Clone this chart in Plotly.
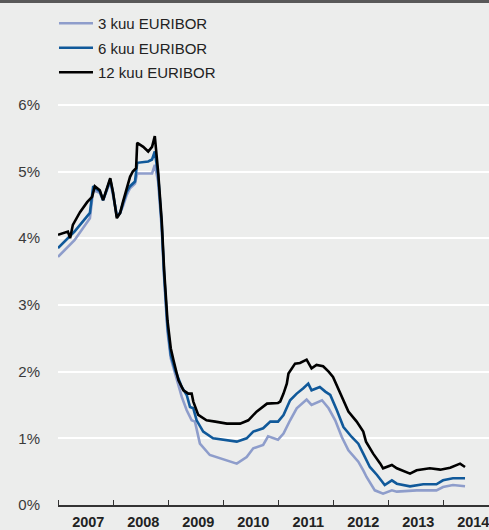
import plotly.graph_objects as go

# Time in decimal years, values in percent
t12 = [2007.00, 2007.10, 2007.18, 2007.22, 2007.27, 2007.40, 2007.53, 2007.62, 2007.67, 2007.76,
       2007.82, 2007.95, 2008.00, 2008.07, 2008.13, 2008.18, 2008.25, 2008.31, 2008.36, 2008.42,
       2008.44, 2008.55, 2008.64, 2008.71, 2008.76, 2008.82, 2008.885, 2008.93, 2008.99, 2009.05,
       2009.10, 2009.19, 2009.28, 2009.37, 2009.43, 2009.46, 2009.55, 2009.70, 2009.86, 2010.07,
       2010.31, 2010.46, 2010.61, 2010.80, 2011.00, 2011.04, 2011.10, 2011.16, 2011.19, 2011.31,
       2011.40, 2011.52, 2011.61, 2011.70, 2011.82, 2011.92, 2012.00, 2012.13, 2012.28, 2012.43,
       2012.55, 2012.60, 2012.73, 2012.86, 2012.91, 2013.07, 2013.16, 2013.40, 2013.52, 2013.76,
       2013.95, 2014.13, 2014.31, 2014.40]
v12 = [4.05, 4.08, 4.10, 4.00, 4.20, 4.39, 4.54, 4.62, 4.78, 4.72,
       4.57, 4.90, 4.69, 4.30, 4.38, 4.54, 4.75, 4.92, 5.00, 5.05,
       5.43, 5.37, 5.30, 5.37, 5.53, 5.00, 4.27, 3.52, 2.77, 2.35,
       2.17, 1.87, 1.72, 1.67, 1.67, 1.55, 1.35, 1.27, 1.25, 1.22,
       1.22, 1.27, 1.40, 1.52, 1.53, 1.55, 1.67, 1.82, 1.97, 2.12,
       2.13, 2.18, 2.05, 2.10, 2.08, 2.00, 1.92, 1.67, 1.40, 1.25,
       1.10, 0.95, 0.77, 0.62, 0.55, 0.60, 0.55, 0.47, 0.52, 0.55,
       0.53, 0.56, 0.62, 0.57]

t6 = [2007.00, 2007.30, 2007.58, 2007.64, 2007.76, 2007.82, 2007.95, 2008.00, 2008.07, 2008.13,
      2008.18, 2008.25, 2008.31, 2008.40, 2008.44, 2008.64, 2008.71, 2008.76, 2008.82, 2008.885,
      2008.93, 2008.99, 2009.05, 2009.13, 2009.25, 2009.34, 2009.40, 2009.46, 2009.52, 2009.64,
      2009.82, 2010.07, 2010.25, 2010.43, 2010.55, 2010.73, 2010.86, 2011.00, 2011.10, 2011.22,
      2011.34, 2011.46, 2011.55, 2011.61, 2011.76, 2011.86, 2011.95, 2012.07, 2012.19, 2012.34,
      2012.46, 2012.55, 2012.67, 2012.80, 2012.94, 2013.07, 2013.16, 2013.40, 2013.64, 2013.88,
      2014.00, 2014.18, 2014.40]
v6 = [3.85, 4.10, 4.38, 4.78, 4.70, 4.57, 4.88, 4.68, 4.32, 4.38,
      4.52, 4.70, 4.78, 4.85, 5.13, 5.15, 5.18, 5.30, 4.95, 4.22,
      3.45, 2.68, 2.25, 2.02, 1.77, 1.65, 1.47, 1.45, 1.27, 1.10,
      1.00, 0.97, 0.95, 1.00, 1.10, 1.15, 1.25, 1.25, 1.35, 1.57,
      1.67, 1.75, 1.82, 1.72, 1.77, 1.70, 1.65, 1.42, 1.17, 1.02,
      0.92, 0.77, 0.57, 0.45, 0.30, 0.37, 0.32, 0.28, 0.31, 0.31,
      0.37, 0.40, 0.40]

t3 = [2007.00, 2007.30, 2007.58, 2007.64, 2007.76, 2007.82, 2007.95, 2008.00, 2008.07, 2008.13,
      2008.18, 2008.25, 2008.31, 2008.40, 2008.44, 2008.71, 2008.76, 2008.82, 2008.885, 2008.93,
      2008.99, 2009.05, 2009.16, 2009.25, 2009.34, 2009.43, 2009.49, 2009.58, 2009.76, 2009.95,
      2010.13, 2010.25, 2010.43, 2010.55, 2010.73, 2010.82, 2011.00, 2011.10, 2011.22, 2011.34,
      2011.52, 2011.61, 2011.80, 2011.92, 2012.04, 2012.16, 2012.28, 2012.46, 2012.55, 2012.61,
      2012.76, 2012.91, 2013.07, 2013.16, 2013.52, 2013.88, 2014.00, 2014.18, 2014.40]
v3 = [3.72, 3.97, 4.30, 4.72, 4.68, 4.57, 4.85, 4.65, 4.35, 4.38,
      4.48, 4.65, 4.75, 4.82, 4.97, 4.97, 5.10, 4.85, 4.15, 3.40,
      2.60, 2.20, 1.87, 1.62, 1.42, 1.27, 1.25, 0.92, 0.75, 0.70,
      0.65, 0.62, 0.72, 0.85, 0.90, 1.03, 0.98, 1.07, 1.27, 1.45,
      1.58, 1.50, 1.57, 1.45, 1.27, 1.02, 0.82, 0.65, 0.52, 0.42,
      0.22, 0.17, 0.22, 0.20, 0.22, 0.22, 0.27, 0.30, 0.28]

series_names = ["3 kuu EURIBOR", "6 kuu EURIBOR", "12 kuu EURIBOR"]
series_colors = ["#8e9dcb", "#10599a", "#000000"]

years = [2007, 2008, 2009, 2010, 2011, 2012, 2013, 2014]
year_labels = [str(y) for y in years]
y_ticks = [0, 1, 2, 3, 4, 5, 6]
y_labels = [f"{v}%" for v in y_ticks]

fig = go.Figure()
for name, tt, vv, col in zip(series_names, [t3, t6, t12], [v3, v6, v12], series_colors):
    fig.add_trace(go.Scatter(x=tt, y=vv, mode="lines", name=name, legendgroup=name,
                             line=dict(color=col, width=2.6, shape="linear")))

FONT = "Liberation Sans, Arial, sans-serif"
fig.update_layout(
    width=489, height=530,
    margin=dict(l=58, r=0, t=95, b=25, autoexpand=False),
    paper_bgcolor="#ecedec", plot_bgcolor="#ecedec",
    font=dict(family=FONT, size=15, color="#333333"),
    showlegend=True,
    legend=dict(x=-0.0093, y=1.2147, xanchor="left", yanchor="top", bgcolor="rgba(0,0,0,0)",
                font=dict(family=FONT, size=15, color="#222222"),
                traceorder="grouped", tracegroupgap=2, itemwidth=34),
    xaxis=dict(range=[2007, 2014.836], tickmode="array",
               tickvals=[y + 0.55 for y in years], ticktext=year_labels,
               ticks="", showgrid=False, zeroline=False, automargin=False,
               showline=True, linecolor="#333333", linewidth=1.5,
               tickfont=dict(family=FONT, size=14.5, color="#222222", weight="bold"),
               ticklabelstandoff=3, ticklabeloverflow="allow",
               minor=dict(tickmode="array", tickvals=years, ticks="inside", ticklen=5,
                          tickcolor="#333333", tickwidth=1.3, showgrid=False)),
    yaxis=dict(range=[0, 6.147], tickmode="array", tickvals=y_ticks, ticktext=y_labels,
               showgrid=True, gridcolor="#ffffff", gridwidth=1.5, zeroline=False,
               showline=False, ticks="", ticklabelstandoff=17, automargin=False,
               tickfont=dict(family=FONT, size=15, color="#3a3a3a")),
    shapes=[dict(type="rect", xref="paper", yref="paper", x0=-0.2, x1=1.1,
                 y0=1 + 92 / 410, y1=1 + 96 / 410, fillcolor="#595959", line=dict(width=0),
                 layer="above")],
)
fig.write_html("out.html", config={"displayModeBar": False},
               post_script="document.body.style.margin='0';document.body.style.background='#ecedec';document.body.style.overflow='hidden';")
